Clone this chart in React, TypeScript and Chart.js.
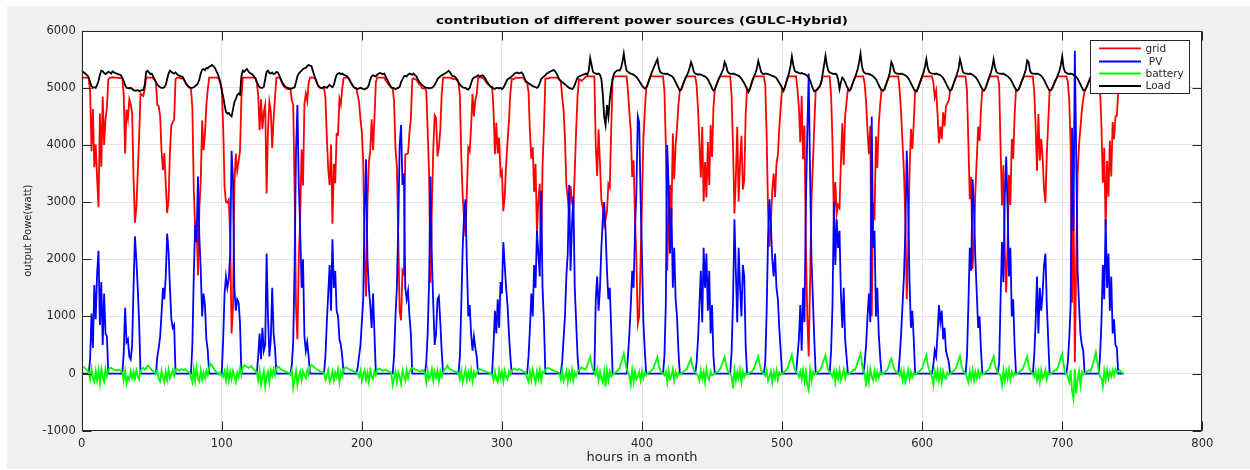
import React, { useEffect, useRef } from 'react';
import { Chart, registerables } from 'chart.js';

Chart.register(...registerables);

const chartTitle = 'contribution of different power sources (GULC-Hybrid)';
const xAxisTitle = 'hours in a month';
const yAxisTitle = 'output Powe(watt)';
const seriesNames = ['grid', ' PV', 'battery', 'Load'];
const seriesColors = ['#ff0000', '#0000ff', '#00ff00', '#000000'];
const xTickValues = [0, 100, 200, 300, 400, 500, 600, 700, 800];
const yTickValues = [-1000, 0, 1000, 2000, 3000, 4000, 5000, 6000];

// hourly values, one row per day (24 h), plus the final hour 744
const gridW = [
  5170,5175,5180,5180,5180,5160,4950,3890,4630,3610,4010,3420,2910,4550,3620,4850,4000,4450,4660,5150,5180,5180,5185,5180,
  5180,5180,5175,5170,5180,5160,4890,3850,4620,4460,4800,4710,4560,3430,2640,2890,3500,4140,4900,4880,4860,4980,5180,5180,
  5180,5180,5180,5170,5140,5100,4700,4680,4500,3900,3560,3860,3320,2810,3030,3880,4350,4400,4440,5150,5180,5180,5175,5160,
  5180,5140,5090,5050,5020,5000,4990,4650,3230,2550,2650,1720,2890,3390,4430,3910,4190,4700,4970,5180,5180,5180,5180,5180,
  5180,5180,5150,5080,4990,4310,3260,3000,2990,3040,2390,700,1170,3290,3850,3550,3710,3890,4800,5180,5180,5180,5180,5180,
  5180,5180,5180,5180,5170,5100,4870,4260,4800,4280,4580,4700,3150,4270,4750,4590,3950,4460,4830,5180,5180,5180,5150,5090,
  5040,5010,4990,4980,4980,4990,4780,4700,3210,1150,600,2010,2750,3920,3290,4720,4900,4770,5080,5180,5180,5180,5180,5150,
  5080,5030,5000,4990,4990,5010,4820,4140,3570,3300,4010,2620,3670,3330,4190,4180,4810,4710,4990,5170,5180,5180,5180,5150,
  5100,5060,5020,5000,4990,4880,4750,4450,4220,3700,2010,1350,2980,3700,3890,4450,3910,4470,5100,5180,5180,5180,5180,5180,
  5180,5130,5100,5060,5030,5000,5000,4770,3940,3640,2380,1080,930,1800,1740,3830,3840,3860,4220,4460,5150,5170,5150,5140,
  5100,5060,5050,4990,4990,4990,4950,4240,3490,1590,2920,3940,4520,4470,3800,3960,4260,4880,5180,5180,5180,5180,5180,5180,
  5170,5150,5160,5150,5130,5090,4860,3780,3100,2700,2400,3200,3950,3890,4320,4890,4500,4790,4890,5170,5180,5180,5180,5160,
  5130,5090,5060,5040,5020,5020,4610,3840,4390,3850,4130,3480,3550,2840,3100,3660,4050,4420,4900,5150,5150,5160,5180,5180,
  5170,5180,5180,5180,5150,5100,5090,4930,4220,3760,3960,3180,3670,2470,3010,3320,2070,3640,4290,5160,5170,5160,5180,5180,
  5180,5180,5180,5180,5170,5140,5120,4850,4610,4120,3300,3070,2800,3280,3000,2900,3530,4270,4850,5150,5140,5120,5150,5170,
  5200,5200,5200,5200,5200,5200,5200,3980,3460,4270,3690,3040,2900,2600,2700,2840,3320,3260,4250,5150,5200,5200,5200,5200,
  5200,5200,5200,5200,5200,5200,4950,4560,4250,3440,3730,2710,1990,870,1000,1980,3040,4110,4590,5000,5060,5130,5200,5200,
  5200,5200,5200,5200,5200,5200,5200,5200,4950,4040,1800,2700,3300,2700,4200,3400,4000,4300,4700,4950,4970,5040,5110,5170,
  5200,5200,5200,5200,5200,5200,5200,5040,4630,4040,3430,4320,3010,3700,3080,4050,3300,4350,3790,4650,4970,5040,5110,5170,
  5200,5200,5200,5200,5200,5200,5200,5200,4840,3950,2800,3430,4320,3010,3690,4160,3220,3380,4530,4980,4930,4980,5060,5140,
  5200,5200,5200,5200,5200,5200,5200,5200,5050,4150,2840,2220,2620,3210,3500,3090,3670,3830,4290,4650,5000,4950,5010,5100,
  5180,5200,5200,5200,5200,5200,5200,4970,4660,4050,4860,3750,4340,2230,1010,300,1630,3060,3680,4340,4950,4970,5000,5030,
  5100,5200,5200,5200,5200,5200,5200,4860,4050,2700,3350,2800,2950,2900,3700,4380,3650,4500,4740,4990,4950,4980,5050,5120,
  5180,5200,5200,5200,5200,5200,5200,5060,4750,4250,3840,4330,1000,3000,2680,4150,3600,4350,4700,4960,4950,4970,5040,5110,
  5180,5200,5200,5200,5200,5200,5200,5200,4940,4550,4040,3530,2720,1300,2170,3530,4280,3930,4380,4950,4940,4990,5060,5130,
  5200,5200,5200,5200,5200,5200,5200,5200,5100,4840,4950,4540,4030,4320,4100,4570,4330,4680,4730,4780,4950,4970,5040,5110,
  5180,5200,5200,5200,5200,5200,5200,5200,4950,4040,3050,3440,1830,2310,3190,3760,4320,4070,4620,4980,4950,4980,5050,5120,
  5190,5200,5200,5200,5200,5200,5200,5050,3950,2940,3650,2130,1420,2300,3480,2950,4110,3760,4510,4970,4950,4980,5040,5110,
  5170,5200,5200,5200,5200,5200,5200,5200,4950,4340,3550,4540,3730,4110,3780,3240,2990,3840,4390,4950,4960,5000,5060,5120,
  5170,5200,5200,5200,5200,5200,5200,5200,5110,4790,3990,1240,3170,200,2000,3500,4000,4300,4600,4800,4950,4990,5050,5110,
  5170,5200,5200,5200,5200,5200,5200,4960,4350,3340,3950,2530,3720,3100,4080,3450,4400,4100,4500,4510,4950,4980,5040,5100,
  5150,
];

const pvW = [
  0,0,0,0,0,0,250,1050,450,1550,950,1750,2150,850,1600,500,1400,700,650,0,0,0,0,0,
  0,0,0,0,0,0,350,1150,550,600,300,250,500,1500,2400,2000,1500,900,0,0,0,0,0,0,
  0,0,0,0,0,0,300,450,650,1050,1500,1300,1700,2450,2150,1500,950,800,850,0,0,0,0,0,
  0,0,0,0,0,0,0,500,1700,2600,2300,3450,2400,1800,1000,1400,1200,600,400,0,0,0,0,0,
  0,0,0,0,0,600,1400,1700,1500,1650,2100,3900,3400,1500,1100,1300,1250,900,0,0,0,0,0,0,
  0,0,0,0,0,0,300,700,250,800,400,500,2100,1000,300,600,1500,700,450,0,0,0,0,0,
  0,0,0,0,0,0,150,550,1900,3900,4700,3300,2500,1500,2000,650,400,550,300,0,0,0,0,0,
  0,0,0,0,0,0,300,900,1400,1900,1100,2350,1500,1800,1100,1000,600,500,300,0,0,0,0,0,
  0,0,0,0,0,100,300,500,900,1300,2900,3750,2000,1500,1200,800,1400,700,0,0,0,0,0,0,
  0,0,0,0,0,0,0,300,1000,1500,2600,4000,4350,3300,3500,1500,1300,1450,1000,700,0,0,0,0,
  0,0,0,0,0,0,200,700,1600,3450,2000,1200,500,700,1300,1350,900,400,0,0,0,0,0,0,
  0,0,0,0,0,0,300,1200,2200,2800,3050,1900,1000,1200,700,400,650,450,300,0,0,0,0,0,
  0,0,0,0,0,0,500,1100,700,1300,800,1600,1400,2300,1900,1500,1200,700,300,0,0,0,0,0,
  0,0,0,0,0,0,0,300,800,1400,1000,1900,1500,2500,2100,1700,3200,1500,900,0,0,0,0,0,
  0,0,0,0,0,0,0,200,600,1000,1700,2100,3300,1800,2600,3100,1500,900,300,0,0,0,0,0,
  0,0,0,0,0,0,0,1300,1700,1100,1500,2200,2700,3000,2500,1800,1300,1500,800,0,0,0,0,0,
  0,0,0,0,0,0,300,700,1200,1800,1500,2500,3200,4500,4400,3100,2000,900,400,0,0,0,0,0,
  0,0,0,0,0,0,0,0,300,1200,4000,3300,2100,2900,1500,2200,1300,1000,400,0,0,0,0,0,
  0,0,0,0,0,0,0,200,600,1200,1800,900,2200,1500,2100,1100,1800,700,1200,300,0,0,0,0,
  0,0,0,0,0,0,0,0,400,1300,2700,1800,900,2200,1500,1000,1900,1700,500,0,0,0,0,0,
  0,0,0,0,0,0,0,0,200,1100,2400,3050,2600,2000,1700,2100,1500,1300,800,400,0,0,0,0,
  0,0,0,0,0,0,0,300,600,1200,400,1500,900,3000,4200,5250,3500,2000,1300,600,0,0,0,0,
  0,0,0,0,0,0,0,400,1200,3000,1900,2700,2200,2500,1400,800,1500,600,300,0,0,0,0,0,
  0,0,0,0,0,0,0,200,500,1000,1400,900,4500,2200,2500,1000,1500,700,300,0,0,0,0,0,
  0,0,0,0,0,0,0,0,300,700,1200,1700,2500,3900,3000,1600,800,1100,600,0,0,0,0,0,
  0,0,0,0,0,0,0,0,150,400,300,700,1200,900,1100,600,800,400,300,200,0,0,0,0,
  0,0,0,0,0,0,0,0,300,1200,2200,1800,3400,2900,2000,1400,800,1000,400,0,0,0,0,0,
  0,0,0,0,0,0,0,200,1300,2300,1600,3100,3800,2900,1700,2200,1000,1300,500,0,0,0,0,0,
  0,0,0,0,0,0,0,0,300,900,1700,700,1500,1100,1400,1900,2100,1200,600,0,0,0,0,0,
  0,0,0,0,0,0,0,0,200,600,1200,4300,2500,5650,3800,1800,1200,700,500,400,0,0,0,0,
  0,0,0,0,0,0,0,300,900,1900,1300,2700,1500,2100,1100,1700,700,950,500,450,0,0,0,0,
  0,
];

const batteryW = [
  130,120,100,80,60,30,-100,90,-80,-150,40,-120,60,-170,80,-60,-140,90,-50,60,90,100,80,70,
  60,50,70,60,40,20,-120,50,-170,-60,-110,40,-80,30,-90,60,-40,-100,50,80,100,70,90,140,
  130,90,60,40,20,10,60,-100,-140,50,-60,-150,30,-110,70,-80,-20,60,-40,70,80,60,50,80,
  70,60,80,50,30,20,-60,-150,80,-120,100,-90,-140,60,-110,20,-80,50,-30,100,170,140,100,60,
  30,10,-20,20,-40,-60,40,-120,60,-130,30,-100,50,-40,-150,20,-60,90,-20,110,150,130,120,100,
  110,130,100,70,50,20,-120,50,-200,-80,40,-230,-60,30,-150,60,-40,80,-30,90,120,110,80,60,
  50,40,30,20,10,-20,60,-250,-100,50,-200,-60,30,-120,40,-30,-80,60,-20,120,150,130,110,90,
  70,60,40,30,20,10,-110,-40,60,-150,-80,40,-120,20,-60,70,-150,30,-40,80,100,110,90,70,
  60,50,40,30,20,0,-60,50,-130,-20,60,-110,20,-150,60,-50,-90,40,-30,70,90,80,60,50,
  60,70,50,40,20,10,-200,-80,40,-150,20,-60,-180,50,-40,-120,60,-80,30,80,100,90,70,60,
  50,40,30,60,40,20,-150,60,-100,-40,80,-120,30,-70,50,-130,40,-60,20,70,90,140,100,80,
  60,50,40,30,20,10,-100,50,-150,-40,70,-120,20,-90,60,-140,30,-50,10,60,80,70,60,50,
  40,30,20,10,0,-20,-120,40,-90,-150,60,-80,30,-140,50,-60,-100,40,-20,50,70,90,70,60,
  80,70,60,40,30,20,-80,-150,40,-110,70,-60,-160,30,-90,60,-120,40,10,60,80,100,90,70,
  60,50,40,30,20,10,-100,50,-130,-60,40,-150,30,-90,70,-120,20,-50,30,60,80,110,90,70,
  80,150,220,290,160,60,20,-30,80,-120,40,-90,-160,30,-230,60,-120,40,-50,-20,0,20,40,60,
  100,180,260,350,200,80,30,-40,-200,60,-150,40,-100,-60,30,-120,50,-80,20,-30,10,20,30,60,
  90,160,220,290,150,60,20,0,-30,40,-150,60,-100,-40,80,-120,30,-60,10,-20,0,20,40,60,
  80,150,200,260,140,50,20,0,-40,-120,60,-90,30,-150,80,-60,-110,40,-30,-20,0,20,30,60,
  90,160,220,290,150,60,20,0,-50,-260,60,-120,30,-80,70,-150,40,-60,10,-20,0,20,30,50,
  90,170,230,300,160,60,20,0,-40,60,-130,-60,40,-150,30,-80,60,-110,20,-20,0,20,40,60,
  100,180,250,330,170,70,30,10,-60,40,-100,60,-140,30,-200,-290,60,-120,30,-20,0,20,40,60,
  100,180,250,320,170,60,20,0,-60,50,-150,30,-90,60,-120,-40,70,-80,20,-20,0,20,40,70,
  60,120,200,270,350,180,40,0,-230,40,-150,80,-60,-120,50,-90,30,-70,20,-20,0,20,40,60,
  120,200,260,170,80,40,20,0,-40,60,-120,40,-150,-60,70,-100,30,-60,10,-20,0,20,40,60,
  90,170,240,320,160,60,20,-50,-200,40,-80,60,-120,30,-150,40,-60,-90,20,-20,0,20,40,60,
  90,160,230,300,150,60,20,0,-60,-150,40,-100,60,-120,30,-80,50,-60,20,-20,0,20,40,60,
  90,160,230,300,150,60,20,0,-40,-200,60,-130,40,-90,70,-110,30,-50,10,-20,0,20,40,60,
  90,160,230,300,150,60,20,0,-50,50,-120,30,-150,60,-80,-40,60,-100,20,-20,0,20,40,60,
  60,120,200,280,350,150,20,0,-60,-150,60,-300,-440,80,-350,-100,40,-200,30,-20,0,20,40,60,
  40,100,180,260,370,200,60,-60,-80,-230,40,-120,60,-90,30,-50,60,-40,80,20,40,60,30,10,
  0,
];

const loadW = [
  5300,5280,5260,5240,5220,5180,5100,5030,5000,5010,5000,5050,5120,5230,5300,5290,5260,5240,5260,5280,5270,5250,5290,5270,
  5260,5250,5240,5230,5220,5180,5120,5050,5000,5000,4990,5000,4980,4960,4950,4950,4960,4940,4950,4960,4960,5050,5280,5300,
  5270,5240,5250,5200,5150,5100,5060,5030,5010,5000,5000,5010,5050,5150,5250,5300,5280,5260,5250,5270,5240,5220,5210,5200,
  5190,5150,5100,5060,5030,5010,5000,5000,5010,5030,5050,5080,5150,5250,5320,5330,5310,5350,5340,5370,5380,5400,5380,5350,
  5300,5250,5180,5100,4950,4850,4700,4580,4550,4560,4520,4500,4620,4750,4800,4870,4900,4880,5200,5300,5280,5310,5330,5290,
  5260,5250,5230,5200,5170,5100,5050,5010,5000,5000,5020,5150,5280,5300,5260,5250,5270,5240,5250,5280,5270,5220,5160,5100,
  5060,5030,5010,5000,4990,4980,4990,5000,5010,5100,5200,5250,5280,5300,5330,5340,5350,5380,5400,5390,5380,5300,5220,5150,
  5080,5030,5010,5000,5000,5020,5010,5000,5030,5050,5030,5010,5050,5150,5230,5250,5260,5240,5250,5230,5220,5210,5190,5150,
  5100,5060,5020,5000,4990,4980,4990,5000,4990,4980,4970,4990,5000,5050,5150,5200,5220,5210,5200,5230,5250,5260,5250,5240,
  5250,5200,5150,5100,5050,5010,5000,4990,4980,4990,5000,5020,5100,5150,5200,5210,5200,5230,5250,5240,5230,5250,5220,5200,
  5150,5100,5080,5050,5030,5010,5000,5000,4990,5000,5000,5020,5050,5100,5150,5180,5200,5220,5230,5250,5260,5280,5300,5270,
  5230,5200,5200,5180,5150,5100,5060,5030,5010,5000,5000,4980,4970,5000,5080,5150,5180,5190,5200,5220,5200,5210,5220,5200,
  5170,5120,5080,5050,5020,5000,4990,4980,5000,5000,4990,5000,4980,5000,5050,5100,5150,5160,5180,5200,5220,5250,5260,5270,
  5250,5260,5270,5240,5180,5120,5100,5080,5060,5050,5030,5020,5010,5000,5020,5080,5150,5180,5200,5220,5250,5260,5280,5290,
  5300,5310,5290,5250,5200,5150,5120,5100,5080,5060,5040,5020,5000,4990,4980,5000,5050,5120,5180,5200,5210,5220,5230,5240,
  5250,5230,5300,5520,5400,5280,5260,5250,5240,5250,5230,5150,4900,4500,4350,4700,4500,4800,5000,5150,5250,5280,5300,5310,
  5300,5350,5450,5600,5420,5300,5280,5260,5250,5240,5230,5210,5190,5160,5120,5080,5040,5010,4990,5000,5060,5130,5200,5270,
  5330,5390,5450,5500,5350,5280,5260,5250,5250,5240,5250,5230,5220,5210,5190,5150,5100,5050,5000,4950,4970,5040,5110,5170,
  5220,5270,5350,5450,5380,5280,5250,5240,5230,5240,5230,5220,5210,5200,5180,5150,5100,5050,4990,4950,4970,5040,5110,5170,
  5220,5270,5330,5450,5400,5290,5260,5250,5240,5250,5240,5230,5220,5210,5190,5160,5120,5080,5030,4980,4930,4980,5060,5140,
  5200,5260,5340,5470,5380,5280,5250,5240,5250,5250,5240,5230,5220,5210,5200,5190,5170,5130,5090,5050,5000,4950,5010,5100,
  5180,5260,5380,5550,5400,5300,5280,5270,5260,5250,5260,5250,5240,5230,5210,5180,5130,5060,4980,4940,4950,4970,5000,5030,
  5100,5250,5400,5560,5400,5300,5270,5260,5250,5240,5250,5230,5150,4980,5100,5180,5150,5100,5040,4990,4950,4980,5050,5120,
  5180,5250,5330,5450,5600,5380,5290,5260,5250,5250,5240,5230,5220,5200,5180,5150,5100,5050,5000,4960,4950,4970,5040,5110,
  5180,5280,5450,5400,5290,5260,5250,5250,5240,5250,5240,5230,5220,5200,5170,5130,5080,5030,4980,4950,4940,4990,5060,5130,
  5200,5270,5370,5500,5350,5280,5260,5250,5250,5240,5250,5240,5230,5220,5200,5170,5130,5080,5030,4980,4950,4970,5040,5110,
  5180,5250,5340,5500,5400,5280,5260,5250,5250,5240,5250,5240,5230,5210,5190,5160,5120,5070,5020,4980,4950,4980,5050,5120,
  5190,5260,5350,5500,5360,5280,5260,5250,5250,5240,5250,5230,5220,5200,5180,5150,5110,5060,5010,4970,4950,4980,5040,5110,
  5170,5240,5320,5480,5450,5300,5260,5250,5250,5240,5250,5240,5230,5210,5180,5140,5090,5040,4990,4950,4960,5000,5060,5120,
  5170,5230,5300,5400,5550,5350,5280,5260,5250,5240,5250,5240,5230,5210,5190,5160,5110,5060,5010,4960,4950,4990,5050,5110,
  5170,5250,5350,5500,5560,5350,5280,5260,5250,5240,5250,5230,5220,5200,5180,5150,5100,5050,5000,4960,4950,4980,5040,5100,
  5150,
];

const hours = loadW.map((_, i) => i);

const FONT = 'DejaVu Sans';
const AXIS_COLOR = '#262626';

const matlabFrame = {
  id: 'matlabFrame',
  beforeDraw(chart: any) {
    const { ctx, chartArea: a } = chart;
    ctx.save();
    ctx.fillStyle = '#ffffff';
    ctx.fillRect(a.left, a.top, a.right - a.left, a.bottom - a.top);
    ctx.restore();
  },
  afterDraw(chart: any) {
    const { ctx, chartArea: a, scales } = chart;
    const xs = scales.x;
    const ys = scales.y;
    ctx.save();
    ctx.strokeStyle = AXIS_COLOR;
    ctx.lineWidth = 1;
    const L = Math.round(a.left) + 0.5;
    const R = Math.round(a.right) - 0.5;
    const T = Math.round(a.top) + 0.5;
    const B = Math.round(a.bottom) - 0.5;
    ctx.beginPath();
    xTickValues.forEach((v) => {
      const px = Math.round(xs.getPixelForValue(v)) + 0.5;
      ctx.moveTo(px, B); ctx.lineTo(px, B - 9);
      ctx.moveTo(px, T); ctx.lineTo(px, T + 9);
    });
    yTickValues.forEach((v) => {
      const py = Math.round(ys.getPixelForValue(v)) + 0.5;
      ctx.moveTo(L, py); ctx.lineTo(L + 9, py);
      ctx.moveTo(R, py); ctx.lineTo(R - 9, py);
    });
    ctx.stroke();
    ctx.strokeRect(L, T, R - L, B - T);

    // title
    ctx.fillStyle = '#000000';
    ctx.font = `bold 11px "${FONT}"`;
    ctx.textAlign = 'center';
    ctx.textBaseline = 'middle';
    ctx.save();
    ctx.translate((a.left + a.right) / 2, 15);
    ctx.scale(1.22, 1);
    ctx.fillText(chartTitle, 0, 0);
    ctx.restore();

    // legend box
    const bx = 1083, by = 34, bw = 99, bh = 53;
    ctx.fillStyle = '#ffffff';
    ctx.fillRect(bx, by, bw, bh);
    ctx.strokeStyle = AXIS_COLOR;
    ctx.lineWidth = 1;
    ctx.strokeRect(bx + 0.5, by + 0.5, bw, bh);
    const rows = [42.3, 55.5, 67.5, 80];
    ctx.font = `10.5px "${FONT}"`;
    ctx.textAlign = 'left';
    ctx.textBaseline = 'middle';
    seriesNames.forEach((name, k) => {
      ctx.strokeStyle = seriesColors[k];
      ctx.lineWidth = 1.8;
      ctx.beginPath();
      ctx.moveTo(1092, rows[k]);
      ctx.lineTo(1134, rows[k]);
      ctx.stroke();
      ctx.fillStyle = AXIS_COLOR;
      ctx.fillText(name, 1138.5, rows[k] + 0.5);
    });
    ctx.restore();
  },
};

export default function App() {
  const canvasRef = useRef<HTMLCanvasElement | null>(null);

  useEffect(() => {
    const canvas = canvasRef.current;
    if (!canvas) return;
    const series = [gridW, pvW, batteryW, loadW];
    const datasets = series.map((vals, k) => ({
      label: seriesNames[k],
      data: vals.map((y, i) => ({ x: hours[i], y })),
      borderColor: seriesColors[k],
      backgroundColor: seriesColors[k],
      borderWidth: 1.8,
      pointRadius: 0,
      tension: 0,
      fill: false,
      order: 4 - k,
    }));
    const chart = new Chart(canvas, {
      type: 'line',
      data: { datasets },
      plugins: [matlabFrame],
      options: {
        animation: false,
        responsive: false,
        devicePixelRatio: 1,
        events: [],
        parsing: false as any,
        normalized: true,
        layout: { padding: { left: 0, top: 24.7, right: 47.7, bottom: 0 } },
        plugins: {
          legend: { display: false },
          title: { display: false },
          tooltip: { enabled: false },
        },
        scales: {
          x: {
            type: 'linear',
            min: 0,
            max: 800,
            afterBuildTicks: (s: any) => { s.ticks = xTickValues.map((v) => ({ value: v })); },
            afterFit: (s: any) => { s.height = 38.3; },
            grid: { color: '#e4e4e4', drawTicks: false, lineWidth: 1 },
            border: { display: false },
            ticks: {
              padding: 6,
              color: AXIS_COLOR,
              font: { family: FONT, size: 11.5 },
              maxRotation: 0,
              autoSkip: false,
              callback: (v: any) => String(v),
            },
            title: {
              display: true,
              text: xAxisTitle,
              color: AXIS_COLOR,
              font: { family: FONT, size: 13 },
              padding: { top: 0, bottom: 4 },
            },
          },
          y: {
            type: 'linear',
            min: -1000,
            max: 6000,
            afterBuildTicks: (s: any) => { s.ticks = yTickValues.map((v) => ({ value: v })); },
            afterFit: (s: any) => { s.width = 74.7; },
            grid: { color: '#e4e4e4', drawTicks: false, lineWidth: 1 },
            border: { display: false },
            ticks: {
              padding: 6,
              color: AXIS_COLOR,
              font: { family: FONT, size: 11.5 },
              autoSkip: false,
              callback: (v: any) => String(v),
            },
            title: {
              display: true,
              text: yAxisTitle,
              color: AXIS_COLOR,
              font: { family: FONT, size: 10 },
              padding: { top: 15, bottom: 0 },
            },
          },
        },
      },
    } as any);
    return () => chart.destroy();
  }, []);

  return (
    <div style={{ position: 'fixed', left: 0, top: 0, width: 1250, height: 470, background: '#ffffff' }}>
      <div style={{ position: 'absolute', left: 7, top: 6, width: 1243, height: 463, background: '#f0f0f0' }}>
        <canvas ref={canvasRef} width={1243} height={463} style={{ display: 'block', width: 1243, height: 463 }} />
      </div>
    </div>
  );
}
